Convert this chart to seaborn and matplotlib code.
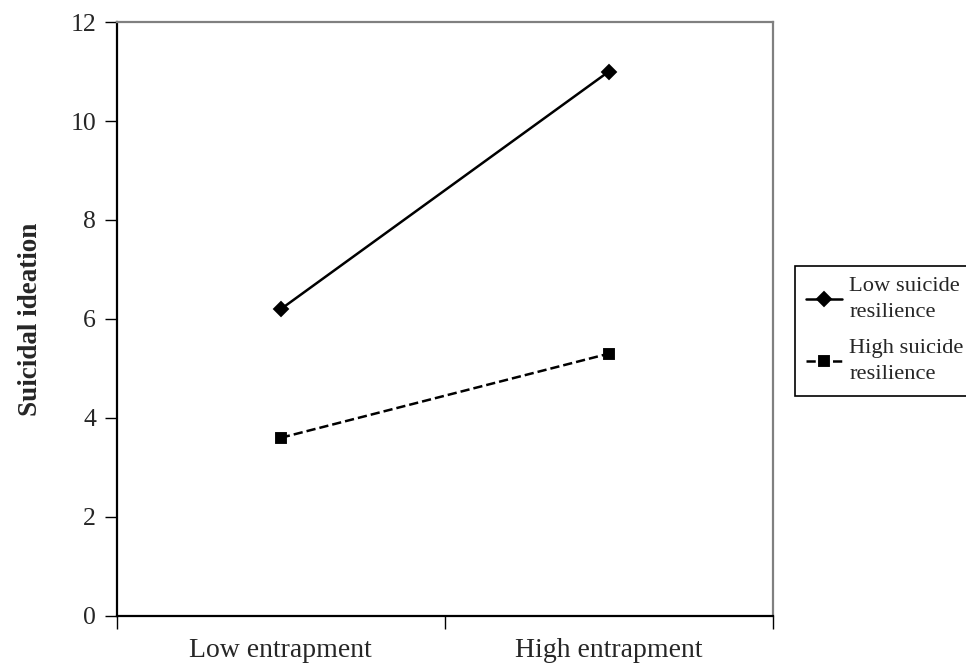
import pandas as pd
import matplotlib.pyplot as plt
import seaborn as sns

# Values
entrapment = ['Low entrapment', 'High entrapment']
low_resilience = [6.2, 11.0]
high_resilience = [3.6, 5.3]
groups = ['Low suicide\nresilience', 'High suicide\nresilience']

data = pd.DataFrame({
    'entrapment': entrapment * 2,
    'ideation': low_resilience + high_resilience,
    'group': [groups[0]] * 2 + [groups[1]] * 2,
})

sns.set_style('white')
plt.rcParams['font.family'] = ['Liberation Serif', 'DejaVu Serif']

fig = plt.figure(figsize=(9.66, 6.67), dpi=100)
ax = fig.add_axes([0.121, 0.0765, 0.679, 0.8905])

sns.pointplot(data=data, x='entrapment', y='ideation', hue='group', ax=ax,
              palette=['black', 'black'], markers=['D', 's'],
              linestyles=['-', '--'], markersize=7.5, linewidth=1.8,
              errorbar=None)

ax.set_xlim(-0.5, 1.5)
ax.set_ylim(0, 12)
ax.set_yticks(range(0, 13, 2))
ax.set_xticks([-0.5, 0.5, 1.5])
ax.set_xticklabels([])
ax.set_xticks([0, 1], minor=True)
ax.set_xticklabels(entrapment, minor=True, fontsize=20)
ax.tick_params(axis='x', which='major', direction='out', length=9, width=1, color='black', bottom=True)
ax.tick_params(axis='x', which='minor', length=0, pad=16)
ax.tick_params(axis='y', direction='out', length=9, width=1, color='black', left=True,
               labelsize=18.5, pad=6)

for side in ['left', 'bottom']:
    ax.spines[side].set_color('black')
    ax.spines[side].set_linewidth(1.6)
for side in ['top', 'right']:
    ax.spines[side].set_color('#808080')
    ax.spines[side].set_linewidth(1.6)

ax.set_xlabel('')
ax.set_ylabel('Suicidal ideation', fontsize=19.5, fontweight='bold', labelpad=20)

leg = ax.legend(loc='upper left', bbox_to_anchor=(1.034, 0.589), fontsize=16.2,
                frameon=True, fancybox=False, edgecolor='black', framealpha=1,
                handlelength=1.6, handletextpad=0.3, labelspacing=0.75,
                borderpad=0.5, borderaxespad=0)
leg.get_frame().set_linewidth(1.2)
for t in leg.get_texts():
    t.set_linespacing(1.5)

fig.savefig('out.png', dpi=100)
